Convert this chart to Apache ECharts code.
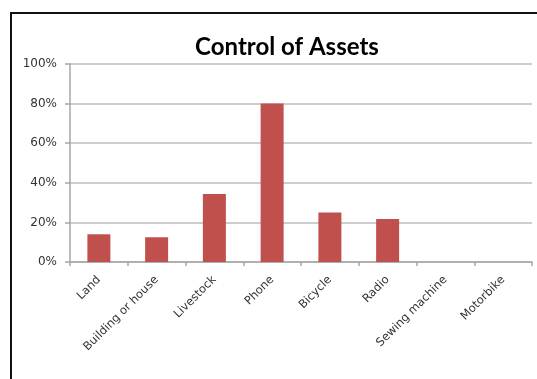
<!DOCTYPE html>
<html>
<head>
<meta charset="utf-8">
<script src="https://cdn.jsdelivr.net/npm/echarts@6/dist/echarts.min.js"></script>
<style>
  html, body { margin: 0; padding: 0; background: #fff; }
  #chart { width: 537px; height: 379px; }
</style>
</head>
<body>
<div id="chart"></div>
<script>
// Share of respondents who control each asset
const chartTitle = 'Control of Assets';
const categories = ['Land', 'Building or house', 'Livestock', 'Phone', 'Bicycle', 'Radio', 'Sewing machine', 'Motorbike'];
const controlShare = [14, 12.5, 34.3, 80, 25, 21.7, 0, 0];
const yTicks = [0, 20, 40, 60, 80, 100];

const chart = echarts.init(document.getElementById('chart'), null, { renderer: 'canvas' });

chart.setOption({
  animation: false,
  backgroundColor: '#ffffff',
  title: {
    text: chartTitle,
    left: 282,
    textAlign: 'center',
    top: 30,
    textStyle: {
      fontFamily: 'Lato',
      fontWeight: 'bold',
      fontSize: 24,
      color: '#000000'
    }
  },
  graphic: [{
    type: 'rect',
    shape: { x: 11, y: 13, width: 560, height: 400 },
    style: { fill: 'none', stroke: '#111111', lineWidth: 2 },
    silent: true,
    z: 10
  }],
  grid: { left: 70, right: 5, top: 64, bottom: 117, containLabel: false },
  xAxis: {
    type: 'category',
    data: categories,
    axisLine: { lineStyle: { color: '#a6a6a6', width: 1.5 } },
    axisTick: { show: true, length: 4, lineStyle: { color: '#a6a6a6', width: 1.5 } },
    axisLabel: {
      interval: 0,
      rotate: 45,
      margin: 16,
      fontFamily: 'DejaVu Sans',
      fontSize: 11.5,
      color: '#333333'
    }
  },
  yAxis: {
    type: 'value',
    min: yTicks[0],
    max: yTicks[yTicks.length - 1],
    interval: yTicks[1] - yTicks[0],
    axisLine: { show: true, lineStyle: { color: '#a6a6a6', width: 1.5 } },
    axisTick: { show: true, length: 5, lineStyle: { color: '#a6a6a6', width: 1.5 } },
    splitLine: { show: true, lineStyle: { color: '#bdbdbd', width: 1.5 } },
    axisLabel: {
      margin: 13,
      fontFamily: 'DejaVu Sans',
      fontSize: 12,
      color: '#333333',
      formatter: v => v + '%'
    }
  },
  series: [{
    type: 'bar',
    data: controlShare,
    barWidth: 23,
    itemStyle: { color: '#c0504d' }
  }]
});
</script>
</body>
</html>
